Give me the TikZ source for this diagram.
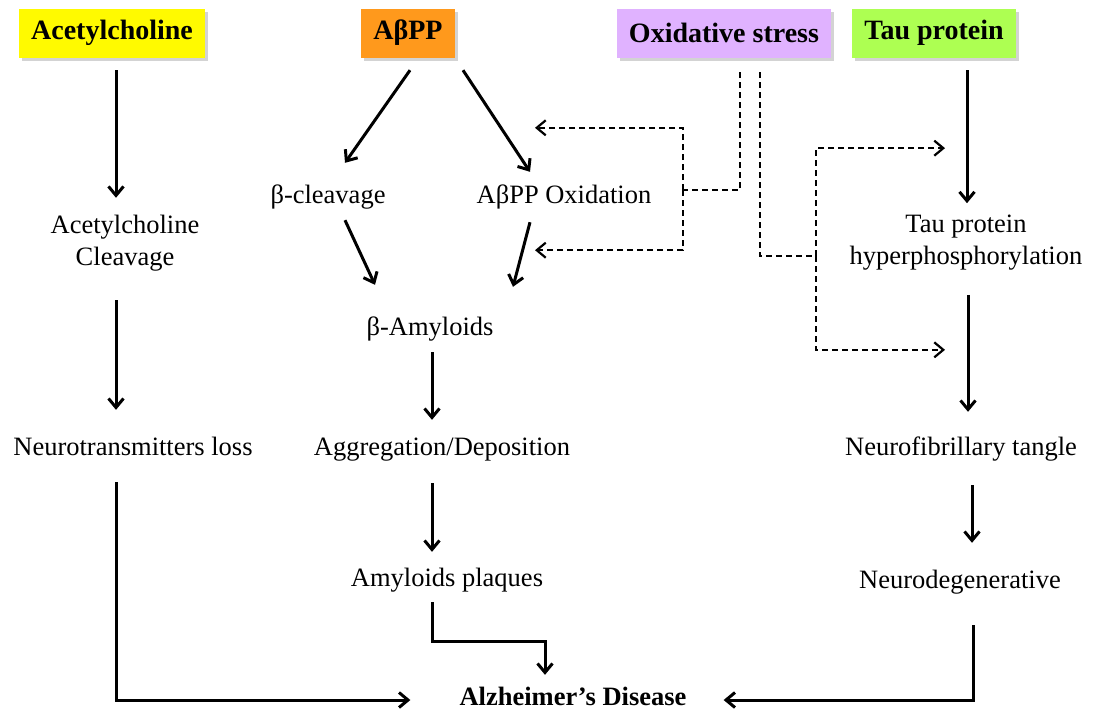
\documentclass[tikz,border=0pt]{standalone}
\usepackage{fontspec}
\setmainfont{Liberation Serif}
\usetikzlibrary{positioning, arrows.meta, shadows}
\definecolor{achyellow}{RGB}{255,250,0}
\definecolor{abpporange}{RGB}{255,153,28}
\definecolor{oxviolet}{RGB}{224,178,255}
\definecolor{taugreen}{RGB}{173,255,82}
\tikzset{
    >={Straight Barb[length=9pt, width=15pt]}, % Open arrowheads
    head/.style={font=\bfseries\fontsize{28}{32}\selectfont, minimum height=49pt, inner xsep=12pt,
        drop shadow={shadow xshift=3pt, shadow yshift=-3pt, opacity=0.35}}, % Coloured headers
    txt/.style={inner sep=0pt, text height=18pt, text depth=6pt, font=\fontsize{26.5}{32}\selectfont},
    txttwo/.style={inner sep=0pt, align=center, font=\fontsize{26.5}{32}\selectfont},
    flow/.style={->, line width=3pt}, % Solid pathway arrows
    oxflow/.style={line width=2.2pt, dash pattern=on 6pt off 4pt}, % Oxidative stress links
}

\begin{document}
\begin{tikzpicture}[x=1pt, y=-1pt]
    \useasboundingbox (0,0) rectangle (1108,713);

    \node[head, fill=achyellow] (ach) at (112,33) {Acetylcholine};
    \node[head, fill=abpporange] (abpp) at (408,33) {AβPP};
    \node[head, fill=oxviolet] (ox) at (724,33) {Oxidative stress};
    \node[head, fill=taugreen] (tau) at (934,33) {Tau protein};

    \node[txttwo] (acl) at (125,243) {Acetylcholine\\Cleavage};
    \node[txt] (bclv) at (328,197) {β-cleavage};
    \node[txt] (aox) at (564,197) {AβPP Oxidation};
    \node[txttwo] (tph) at (966,243) {Tau protein\\hyperphosphorylation};
    \node[txt] (bam) at (430,329) {β-Amyloids};
    \node[txt] (nloss) at (133,449) {Neurotransmitters loss};
    \node[txt] (agg) at (442,449) {Aggregation/Deposition};
    \node[txt] (nft) at (961,449) {Neurofibrillary tangle};
    \node[txt] (plq) at (447,580) {Amyloids plaques};
    \node[txt] (ndeg) at (960,582) {Neurodegenerative};
    \node[txt, font=\bfseries\fontsize{26.5}{32}\selectfont] (ad) at (573,699) {Alzheimer’s Disease};

    \coordinate (jl) at (683,190);
    \coordinate (jr) at (816,256);

    % acetylcholine branch
    \draw[flow] ([xshift=4pt,yshift=-12.5pt]ach.south) -- ([xshift=-9pt,yshift=17pt]acl.north);
    \draw[flow] ([xshift=-9pt,yshift=-29pt]acl.south) -- ([xshift=-17pt,yshift=27pt]nloss.north);
    \draw[flow] ([xshift=-17pt,yshift=-21pt]nloss.south) |- ([xshift=-49pt,yshift=-1pt]ad.west);

    % amyloid branch
    \draw[flow] ([xshift=2pt,yshift=-12.5pt]abpp.south) -- ([xshift=17pt,yshift=22pt]bclv.north);
    \draw[flow] ([xshift=55pt,yshift=-12.5pt]abpp.south) -- ([xshift=-34pt,yshift=13pt]aox.north);
    \draw[flow] ([xshift=17pt,yshift=-11pt]bclv.south) -- ([xshift=-55pt,yshift=32pt]bam.north);
    \draw[flow] ([xshift=-34pt,yshift=-13pt]aox.south) -- ([xshift=83pt,yshift=30pt]bam.north);
    \draw[flow] ([xshift=2pt,yshift=-11pt]bam.south) -- ([xshift=-10pt,yshift=17pt]agg.north);
    \draw[flow] ([xshift=-10pt,yshift=-22pt]agg.south) -- ([xshift=-15pt,yshift=16pt]plq.north);
    \draw[flow] ([xshift=-15pt,yshift=-10pt]plq.south) -- ++(0,39) -| ([xshift=-28pt,yshift=12pt]ad.north);

    % tau branch
    \draw[flow] ([xshift=33pt,yshift=-12.5pt]tau.south) -- ([xshift=1pt,yshift=12pt]tph.north);
    \draw[flow] ([xshift=2pt,yshift=-24pt]tph.south) -- ([xshift=7pt,yshift=25pt]nft.north);
    \draw[flow] ([xshift=11pt,yshift=-24pt]nft.south) -- ([xshift=12pt,yshift=27pt]ndeg.north);
    \draw[flow] ([xshift=13pt,yshift=-31pt]ndeg.south) |- ([xshift=37pt,yshift=-1pt]ad.east);

    % oxidative stress
    \draw[oxflow] ([xshift=16pt,yshift=-14.5pt]ox.south) |- (jl);
    \draw[oxflow, ->] (jl) |- ([xshift=-29pt,yshift=57pt]aox.north);
    \draw[oxflow, ->] (jl) |- ([xshift=-29pt,yshift=-41pt]aox.south);
    \draw[oxflow] ([xshift=36pt,yshift=-14.5pt]ox.south) |- (jr);
    \draw[oxflow, ->] (jr) |- ([xshift=-21pt,yshift=67pt]tph.north);
    \draw[oxflow, ->] (jr) |- ([xshift=-21pt,yshift=-79pt]tph.south);
\end{tikzpicture}
\end{document}
